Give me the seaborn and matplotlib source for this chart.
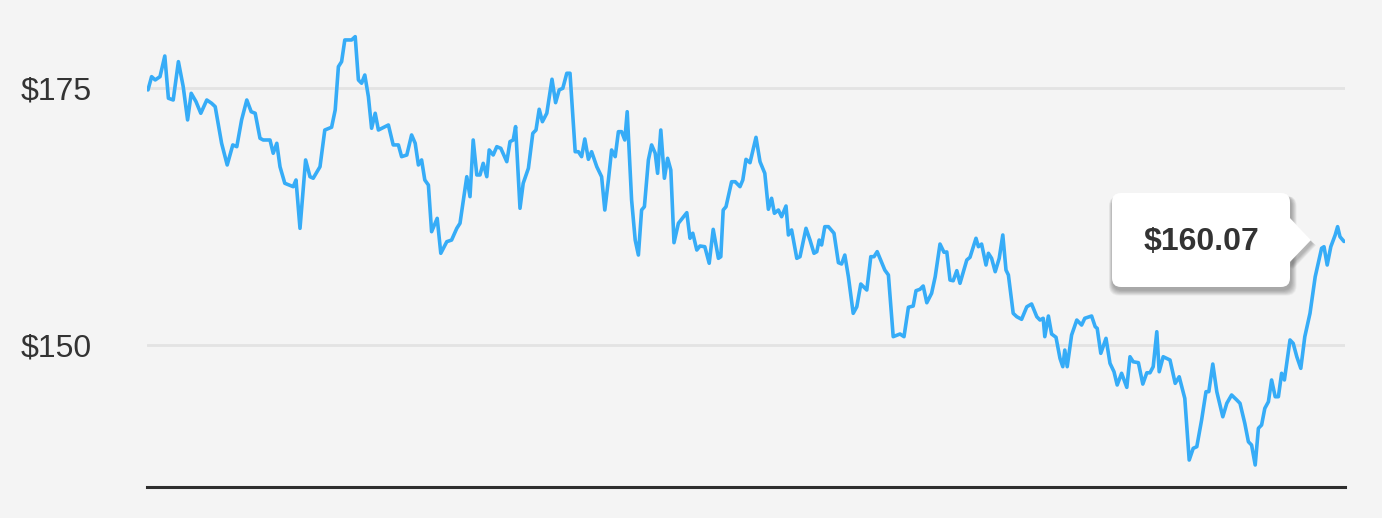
import matplotlib
matplotlib.use('Agg')
import matplotlib.pyplot as plt
from matplotlib.patches import FancyBboxPatch, Polygon
from matplotlib.transforms import IdentityTransform
import pandas as pd
import seaborn as sns

# price trace
days = [0.0, 0.9, 1.8, 3.0, 4.2, 5.1, 6.3, 7.6, 8.8, 9.9,
        10.8, 12.0, 13.2, 14.7, 15.9, 16.8, 18.4, 19.8, 21.2, 22.2,
        23.4, 24.7, 25.8, 26.8, 28.0, 28.8, 30.5, 31.3, 32.2, 33.0,
        34.2, 36.3, 37.0, 38.0, 39.4, 40.5, 41.3, 43.0, 44.2, 45.9,
        46.8, 47.6, 48.4, 49.2, 50.9, 51.8, 52.6, 53.4, 54.2, 55.1,
        55.9, 56.8, 57.6, 60.1, 61.3, 62.6, 63.4, 64.7, 65.9, 66.8,
        67.6, 68.4, 69.2, 70.1, 70.9, 72.3, 73.2, 74.7, 75.9, 77.2,
        78.0, 79.7, 80.5, 81.3, 82.2, 83.0, 83.8, 84.7, 85.3, 86.3,
        87.2, 88.2, 89.7, 90.5, 91.3, 91.9, 93.0, 93.8, 95.1, 96.2,
        97.0, 97.8, 98.6, 99.7, 101.0, 101.9, 102.8, 103.7, 104.7, 105.5,
        106.8, 107.6, 108.4, 109.2, 110.1, 110.9, 112.2, 113.4, 114.2, 115.1,
        115.9, 116.8, 117.6, 118.4, 119.2, 119.8, 120.9, 121.8, 122.6, 123.4,
        124.1, 125.1, 125.9, 126.8, 127.4, 128.2, 129.1, 129.9, 130.7, 131.5,
        132.6, 134.7, 135.5, 136.2, 137.2, 138.0, 139.2, 140.3, 141.3, 142.6,
        143.2, 143.8, 144.5, 145.9, 146.8, 148.0, 148.7, 149.5, 150.5, 152.0,
        153.0, 154.2, 155.1, 155.9, 156.6, 157.6, 158.4, 159.5, 160.1, 160.9,
        162.2, 163.0, 164.5, 165.5, 166.5, 167.2, 167.8, 168.4, 169.2, 170.1,
        171.5, 172.6, 173.4, 174.2, 175.1, 176.3, 177.2, 178.2, 179.7, 180.7,
        181.5, 182.3, 184.2, 185.1, 186.3, 188.0, 189.0, 190.1, 191.3, 192.0,
        193.0, 193.8, 194.7, 195.9, 196.8, 198.0, 199.0, 199.7, 200.5, 201.3,
        202.2, 203.0, 204.7, 205.5, 207.0, 207.6, 208.4, 209.5, 210.1, 210.9,
        211.8, 212.8, 213.7, 214.5, 215.1, 216.3, 217.2, 218.4, 219.7, 220.9,
        222.2, 223.0, 223.8, 224.2, 225.1, 225.9, 227.0, 228.0, 228.7, 229.2,
        229.8, 230.9, 232.2, 233.4, 234.2, 235.9, 236.8, 237.3, 238.2, 239.5,
        240.5, 241.5, 242.3, 243.4, 244.7, 245.5, 246.3, 247.6, 248.7, 249.7,
        250.5, 251.3, 252.2, 252.8, 253.8, 255.5, 256.8, 257.8, 259.2, 260.3,
        261.3, 262.2, 263.4, 264.5, 265.2, 266.2, 267.2, 268.7, 269.7, 270.9,
        272.2, 273.0, 274.2, 275.1, 275.9, 276.8, 277.6, 278.4, 279.2, 280.1,
        280.9, 281.8, 282.6, 283.4, 284.1, 285.5, 286.3, 287.2, 288.2, 289.2,
        290.5, 291.8, 293.4, 294.0, 294.8, 295.7, 296.8, 297.4, 298.0, 299.0]

prices = [174.81, 176.10, 175.78, 176.10, 178.11, 174.00, 173.83, 177.56, 175.13, 171.89,
          174.48, 173.67, 172.54, 173.83, 173.51, 173.18, 169.62, 167.51, 169.46, 169.29,
          171.89, 173.83, 172.69, 172.54, 170.11, 169.94, 169.94, 168.65, 169.62, 167.34,
          165.73, 165.40, 166.05, 161.35, 168.00, 166.37, 166.22, 167.34, 170.91, 171.18,
          172.86, 177.07, 177.56, 179.67, 179.67, 179.99, 175.78, 175.46, 176.26, 174.15,
          171.08, 172.54, 170.91, 171.40, 169.46, 169.46, 168.32, 168.48, 170.43, 169.62,
          167.51, 168.00, 166.05, 165.56, 161.02, 162.32, 158.92, 160.05, 160.21, 161.35,
          161.84, 166.37, 164.43, 169.94, 166.54, 166.54, 167.67, 166.37, 168.97, 168.48,
          169.29, 169.13, 167.83, 169.78, 169.94, 171.24, 163.30, 165.73, 167.19, 170.59,
          170.91, 172.93, 171.72, 172.54, 175.85, 173.57, 174.81, 174.97, 176.43, 176.43,
          168.80, 168.80, 168.32, 170.04, 168.06, 168.80, 167.34, 166.37, 163.13, 166.05,
          168.97, 168.32, 170.75, 170.75, 169.94, 172.69, 164.10, 160.21, 158.75, 163.13,
          163.45, 168.00, 169.46, 168.65, 166.70, 170.91, 166.22, 168.16, 167.02, 159.95,
          161.84, 162.87, 160.38, 160.87, 159.24, 159.63, 159.56, 157.95, 161.25, 158.43,
          158.59, 163.13, 163.45, 165.88, 165.88, 165.40, 166.05, 168.06, 167.73, 170.20,
          167.83, 166.70, 163.20, 164.27, 162.81, 163.13, 162.48, 163.52, 160.70, 161.19,
          158.43, 158.59, 161.35, 160.21, 158.92, 159.08, 160.21, 159.73, 161.51, 161.51,
          160.87, 158.01, 157.88, 158.75, 156.64, 153.08, 153.72, 155.93, 155.35, 158.59,
          158.59, 159.08, 157.29, 156.81, 150.81, 151.07, 150.81, 153.67, 153.79, 155.28,
          155.42, 155.74, 154.11, 155.03, 156.64, 159.82, 159.02, 159.05, 156.32, 156.25,
          157.23, 156.00, 158.27, 158.53, 160.38, 159.56, 159.82, 157.78, 158.92, 158.43,
          157.13, 158.43, 160.70, 157.29, 156.81, 153.08, 152.75, 152.50, 153.72, 153.99,
          152.75, 152.43, 152.60, 150.81, 152.82, 151.07, 150.75, 148.70, 147.89, 149.51,
          147.89, 150.97, 152.43, 151.94, 152.60, 152.82, 151.78, 151.62, 149.19, 150.65,
          148.22, 147.40, 146.11, 147.25, 145.88, 148.86, 148.37, 148.28, 146.20, 147.30,
          147.30, 147.89, 151.29, 147.40, 148.86, 148.54, 146.27, 146.91, 144.81, 138.81,
          139.95, 140.11, 142.70, 145.46, 145.46, 148.15, 145.46, 143.02, 144.33, 145.14,
          144.65, 144.33, 142.38, 140.59, 140.27, 138.33, 141.90, 142.22, 143.84, 144.48,
          146.60, 144.97, 144.97, 147.25, 146.60, 150.49, 150.16, 148.86, 147.73, 150.81,
          153.08, 156.64, 159.41, 159.56, 157.78, 159.56, 160.70, 161.51, 160.53, 160.07]

y_ticks = [150, 175]
y_tick_labels = ['$150', '$175']
last_label = '$160.07'

df = pd.DataFrame({'day': days, 'price': prices})

bg = '#f4f4f4'
sns.set_style('white', {'axes.facecolor': bg, 'figure.facecolor': bg})
plt.rcParams['font.family'] = ['Liberation Sans', 'DejaVu Sans']

W, H = 1382, 518
fig = plt.figure(figsize=(W / 100, H / 100), dpi=100)
ax = fig.add_axes([147 / W, 31 / H, 1198 / W, 467 / H])

sns.lineplot(data=df, x='day', y='price', ax=ax, color='#36acf7',
             linewidth=2.6, estimator=None, sort=False, zorder=3,
             solid_joinstyle='round', solid_capstyle='round')

ax.set_xlim(-0.25, 299.25)
ax.set_ylim(136.19, 181.61)
ax.set_xlabel('')
ax.set_ylabel('')
ax.set_xticks([])
ax.set_yticks(y_ticks)
ax.set_yticklabels(y_tick_labels)
ax.tick_params(axis='y', length=0, pad=40, labelsize=23, labelcolor='#333333')
ax.yaxis.grid(True, color='#e3e3e3', linewidth=2)
ax.set_axisbelow(True)

for side in ['top', 'left', 'right']:
    ax.spines[side].set_visible(False)
ax.spines['bottom'].set_color('#2e2e2e')
ax.spines['bottom'].set_linewidth(2.2)

# tooltip box with arrow, in pixel coordinates
ident = IdentityTransform()
x0, x1 = 1112, 1290
y_top, y_bot = 193, 287
bx, by, bw, bh = x0, H - y_bot, x1 - x0, y_bot - y_top
tri = [(x1 - 2, H - 216), (1311, H - 240), (x1 - 2, H - 264)]

for i in range(8, 0, -1):
    sh = FancyBboxPatch((bx + 1 - i * 0.5, by - 3 - i * 0.7), bw + i * 1.2, bh + i * 0.7,
                        boxstyle='round,pad=0,rounding_size=10',
                        facecolor='black', edgecolor='none', alpha=0.045,
                        transform=ident, zorder=10)
    fig.add_artist(sh)
    sht = Polygon([(p[0] + 1 + i * 0.5, p[1] - 3 - i * 0.3) for p in tri],
                  closed=True, facecolor='black', edgecolor='none',
                  alpha=0.035, transform=ident, zorder=10)
    fig.add_artist(sht)

box = FancyBboxPatch((bx, by), bw, bh, boxstyle='round,pad=0,rounding_size=9',
                     facecolor='white', edgecolor='none', transform=ident, zorder=11)
fig.add_artist(box)
arrow = Polygon(tri, closed=True, facecolor='white', edgecolor='none',
                transform=ident, zorder=11)
fig.add_artist(arrow)

fig.text((x0 + x1) / 2, H - 242, last_label, transform=ident, ha='center',
         va='center', fontsize=23, fontweight='bold', color='#333333', zorder=12)

fig.savefig('out.png', dpi=100, facecolor=bg)
